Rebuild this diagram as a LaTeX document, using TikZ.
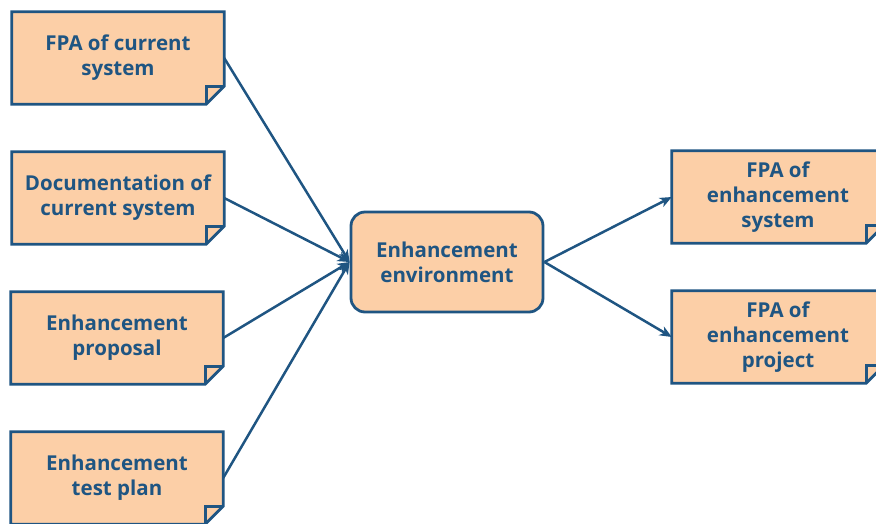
\documentclass[tikz,border=0pt]{standalone}
\usepackage{fontspec}
\setmainfont{Open Sans}
\usetikzlibrary{backgrounds,arrows.meta}
\definecolor{ink}{HTML}{1F5582}
\definecolor{paper}{HTML}{FCCFA7}
\begin{document}
\begin{tikzpicture}[x=1pt,y=-1pt,>={Stealth[length=12pt,width=10pt,inset=3.5pt]}, line join=round,
	font=\bfseries\fontsize{20.5}{25}\selectfont,
	doc/.style={minimum width=212pt, minimum height=92pt, inner sep=0pt, align=center, text=ink},
	env/.style={draw=ink, fill=paper, line width=2.8pt, rounded corners=14pt, minimum width=192pt, minimum height=100pt, align=center, text=ink},
	link/.style={->, draw=ink, line width=2.5pt}]
	\def\fold{18pt} % Kích thước góc gấp
	\useasboundingbox (0,0) rectangle (876,523);
	\node[doc] (fpacur) at (118,58) {FPA of current\\system};
	\node[doc] (doccur) at (118,198) {Documentation of\\current system};
	\node[doc] (proposal) at (117,338) {Enhancement\\proposal};
	\node[doc] (testplan) at (117,478) {Enhancement\\test plan};
	\node[env] (env) at (447,262) {Enhancement\\environment};
	\node[doc] (fpasys) at (778,197) {FPA of\\enhancement\\system};
	\node[doc] (fpaproj) at (778,337) {FPA of\\enhancement\\project};
	\begin{scope}[on background layer]
		\foreach \n in {fpacur,doccur,proposal,testplan,fpasys,fpaproj}{
			\filldraw[draw=ink, fill=paper, line width=2.8pt] (\n.north west) -- (\n.north east) -- ([yshift=\fold]\n.south east)
				-- ([xshift=-\fold]\n.south east) -- (\n.south west) -- cycle;
			\draw[ink, line width=2.8pt] ([xshift=-\fold]\n.south east) -- ([xshift=-\fold,yshift=\fold]\n.south east) -- ([yshift=\fold]\n.south east);
		}
	\end{scope}
	\draw[link] (fpacur.east) -- (env.west);
	\draw[link] (doccur.east) -- (env.west);
	\draw[link] (proposal.east) -- (env.west);
	\draw[link] (testplan.east) -- (env.west);
	\draw[link] (env.east) -- (fpasys.west);
	\draw[link] (env.east) -- (fpaproj.west);
\end{tikzpicture}
\end{document}
